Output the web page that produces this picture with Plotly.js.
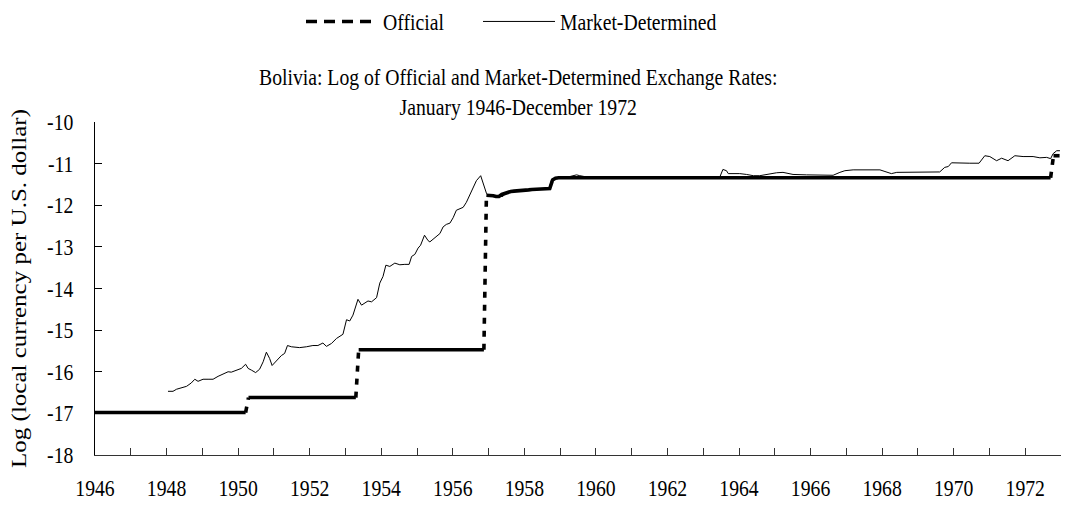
<!DOCTYPE html>
<html>
<head>
<meta charset="utf-8">
<script src="https://cdn.plot.ly/plotly-3.0.1.min.js"></script>
<style>html,body{margin:0;padding:0;background:#fff;}#chart{width:1073px;height:506px;}</style>
</head>
<body>
<div id="chart"></div>
<script>
// ---- Data (decimal years, natural log of local currency per U.S. dollar) ----
const officialYears = [1946.00, 1950.21, 1950.29, 1953.29, 1953.37, 1956.87, 1956.94,
  1957.04, 1957.13, 1957.21, 1957.29, 1957.37, 1957.46, 1957.54, 1957.62, 1957.71, 1957.79, 1957.87, 1957.96,
  1958.04, 1958.12, 1958.21, 1958.29, 1958.37, 1958.46, 1958.54, 1958.62, 1958.71,
  1958.79, 1958.87, 1958.96, 1972.71, 1972.79, 1972.96];
const officialValues = [-16.98, -16.98, -16.62, -16.62, -15.47, -15.47, -11.76,
  -11.76, -11.77, -11.79, -11.79, -11.74, -11.71, -11.69, -11.67, -11.66, -11.65, -11.64, -11.64,
  -11.63, -11.63, -11.62, -11.62, -11.61, -11.61, -11.61, -11.60, -11.60,
  -11.39, -11.35, -11.34, -11.34, -10.81, -10.81];

const marketYears = [1948.04, 1948.18, 1948.28, 1948.42, 1948.56, 1948.69, 1948.79, 1948.88, 1949.02, 1949.16,
  1949.30, 1949.44, 1949.58, 1949.72, 1949.81, 1949.95, 1950.09, 1950.21, 1950.28, 1950.37,
  1950.49, 1950.60, 1950.70, 1950.79, 1950.88, 1950.95, 1951.02, 1951.12, 1951.21, 1951.30,
  1951.38, 1951.49, 1951.72, 1951.91, 1952.09, 1952.23, 1952.37, 1952.47, 1952.61, 1952.75,
  1952.93, 1953.03, 1953.12, 1953.21, 1953.35, 1953.45, 1953.63, 1953.73, 1953.87, 1953.96,
  1954.05, 1954.13, 1954.24, 1954.38, 1954.52, 1954.66, 1954.78, 1954.85, 1954.94, 1955.03,
  1955.10, 1955.21, 1955.31, 1955.36, 1955.50, 1955.64, 1955.73, 1955.82, 1955.92, 1956.01,
  1956.10, 1956.20, 1956.29, 1956.38, 1956.48, 1956.57, 1956.66, 1956.78, 1956.85, 1956.94,
  1956.99, 1957.17, 1957.31, 1957.40, 1957.50, 1957.69, 1957.97, 1958.25, 1958.52, 1958.69,
  1958.76, 1958.90, 1959.18, 1959.46, 1959.55, 1959.74, 1960.00, 1961.00, 1962.00, 1963.00,
  1963.46, 1963.55, 1963.65, 1963.70, 1964.02, 1964.21, 1964.40, 1964.58, 1964.86, 1965.05,
  1965.23, 1965.37, 1965.51, 1965.89, 1966.26, 1966.63, 1966.82, 1966.96, 1967.19, 1967.57,
  1967.94, 1968.08, 1968.26, 1968.41, 1968.78, 1969.25, 1969.61, 1969.75, 1969.85, 1969.94,
  1970.17, 1970.45, 1970.71, 1970.87, 1971.01, 1971.20, 1971.34, 1971.52, 1971.71, 1971.94,
  1972.22, 1972.41, 1972.60, 1972.71, 1972.78, 1972.88, 1972.97];
const marketValues = [-16.47, -16.47, -16.42, -16.38, -16.35, -16.27, -16.18, -16.23, -16.18, -16.18,
  -16.18, -16.11, -16.06, -16.00, -16.01, -15.96, -15.92, -15.82, -15.92, -15.96,
  -16.02, -15.94, -15.76, -15.53, -15.68, -15.85, -15.79, -15.68, -15.61, -15.56,
  -15.37, -15.40, -15.42, -15.40, -15.37, -15.37, -15.31, -15.39, -15.32, -15.20,
  -15.10, -14.75, -14.78, -14.64, -14.26, -14.40, -14.30, -14.32, -14.22, -13.87,
  -13.71, -13.44, -13.47, -13.39, -13.43, -13.42, -13.42, -13.23, -13.18, -13.03,
  -12.96, -12.72, -12.85, -12.88, -12.78, -12.68, -12.52, -12.46, -12.43, -12.30,
  -12.12, -12.08, -12.05, -11.93, -11.74, -11.58, -11.41, -11.29, -11.47, -11.71,
  -11.77, -11.78, -11.80, -11.79, -11.69, -11.67, -11.64, -11.62, -11.61, -11.60,
  -11.39, -11.34, -11.33, -11.27, -11.29, -11.32, -11.33, -11.33, -11.33, -11.33,
  -11.33, -11.14, -11.17, -11.24, -11.24, -11.26, -11.29, -11.29, -11.24, -11.22,
  -11.21, -11.23, -11.26, -11.27, -11.27, -11.28, -11.21, -11.17, -11.15, -11.15,
  -11.15, -11.19, -11.24, -11.21, -11.21, -11.20, -11.20, -11.09, -11.07, -10.98,
  -10.99, -10.99, -10.99, -10.81, -10.83, -10.93, -10.87, -10.93, -10.81, -10.83,
  -10.83, -10.86, -10.85, -10.88, -10.76, -10.69, -10.69];

const xTickYears = [1946, 1947, 1948, 1949, 1950, 1951, 1952, 1953, 1954, 1955, 1956, 1957, 1958, 1959,
  1960, 1961, 1962, 1963, 1964, 1965, 1966, 1967, 1968, 1969, 1970, 1971, 1972, 1973];
const xTickLabels = ['1946', '', '1948', '', '1950', '', '1952', '', '1954', '', '1956', '', '1958', '',
  '1960', '', '1962', '', '1964', '', '1966', '', '1968', '', '1970', '', '1972', ''];
const yTickValues = [-18, -17, -16, -15, -14, -13, -12, -11, -10];
const yTickLabels = ['-18', '-17', '-16', '-15', '-14', '-13', '-12', '-11', '-10'];

// ---- Split official series: small moves drawn solid, large jumps dashed ----
const JUMP = 0.3;
const solidX = [], solidY = [], jumpX = [], jumpY = [];
for (let i = 0; i < officialYears.length; i++) {
  if (i > 0 && Math.abs(officialValues[i] - officialValues[i - 1]) > JUMP) {
    solidX.push(null); solidY.push(null);
    jumpX.push(officialYears[i - 1], officialYears[i], null);
    jumpY.push(officialValues[i - 1], officialValues[i], null);
  }
  solidX.push(officialYears[i]); solidY.push(officialValues[i]);
}

const FONT = 'Liberation Serif, Times New Roman, serif';
const FS = 23;           // glyph height of the tall, narrow lettering
const SQUEEZE = 0.856;   // horizontal narrowing of horizontal text
const YT_STRETCH = 1.25; // lengthening of the rotated axis title
const traces = [
  {x: marketYears, y: marketValues, type: 'scatter', mode: 'lines', name: 'Market-Determined',
   line: {color: '#000', width: 1}, legend: 'legend2'},
  {x: solidX, y: solidY, type: 'scatter', mode: 'lines', name: 'Official', showlegend: false,
   legendgroup: 'off', line: {color: '#000', width: 3.6}, connectgaps: false},
  {x: jumpX, y: jumpY, type: 'scatter', mode: 'lines', name: 'Official', legendgroup: 'off',
   line: {color: '#000', width: 3.6, dash: '6px,7px'}, legend: 'legend'}
];

const legendCommon = {orientation: 'h', xanchor: 'left', yanchor: 'top', yref: 'container', xref: 'container',
  y: 1, font: {family: FONT, size: FS, color: '#000'}, itemwidth: 72, bgcolor: 'rgba(0,0,0,0)'};

const layout = {
  width: 1073, height: 506,
  margin: {l: 95, r: 12, t: 122, b: 51, autoexpand: false},
  paper_bgcolor: '#fff', plot_bgcolor: '#fff',
  font: {family: FONT, size: FS, color: '#000'},
  title: {
    text: 'Bolivia: Log of Official and Market-Determined Exchange Rates:<br>January 1946-December 1972',
    font: {family: FONT, size: FS, color: '#000'},
    x: 0.483, xanchor: 'center', xref: 'container',
    y: 1 - 85 / 506, yanchor: 'top', yref: 'container'
  },
  showlegend: true,
  legend: Object.assign({}, legendCommon, {x: 301 / 1073}),
  legend2: Object.assign({}, legendCommon, {x: 478 / 1073}),
  xaxis: {
    range: [1946, 1973], showgrid: false, zeroline: false, automargin: false,
    showline: true, linecolor: '#333', linewidth: 1,
    ticks: 'inside', ticklen: 7, tickcolor: '#333', tickwidth: 1,
    tickvals: xTickYears, ticktext: xTickLabels, ticklabelstandoff: 12, tickangle: 0,
    tickfont: {family: FONT, size: FS, color: '#000'}, fixedrange: true
  },
  yaxis: {
    range: [-18, -10], showgrid: false, zeroline: false, automargin: false,
    showline: true, linecolor: '#000', linewidth: 1,
    ticks: 'inside', ticklen: 7, tickcolor: '#000', tickwidth: 1,
    tickvals: yTickValues, ticktext: yTickLabels, ticklabelstandoff: 16,
    tickfont: {family: FONT, size: FS, color: '#000'},
    title: {text: 'Log (local currency per U.S. dollar)', font: {family: FONT, size: 20, color: '#000'}, standoff: 10},
    fixedrange: true
  }
};

function shapeLettering(gd) {
  gd.querySelectorAll('text').forEach(function (t) {
    if (!t.textContent.trim()) return;
    const rotated = t.classList.contains('ytitle');
    const lines = t.querySelectorAll('tspan.line');
    const parts = lines.length ? Array.prototype.slice.call(lines) : [t];
    parts.forEach(function (el) {
      const len = el.getComputedTextLength();
      if (!len) return;
      el.setAttribute('textLength', (len * (rotated ? YT_STRETCH : SQUEEZE)).toFixed(1));
      el.setAttribute('lengthAdjust', 'spacingAndGlyphs');
    });
  });
  // legend key for the official rate: longer dashes, as in the original key
  gd.querySelectorAll('.legend .traces').forEach(function (g) {
    const txt = g.querySelector('text.legendtext');
    const path = g.querySelector('path.js-line');
    if (txt && path && txt.textContent === 'Official') path.style.strokeDasharray = '11px,7px';
  });
}

Plotly.newPlot('chart', traces, layout, {staticPlot: true, displayModeBar: false})
  .then(shapeLettering);
</script>
</body>
</html>
